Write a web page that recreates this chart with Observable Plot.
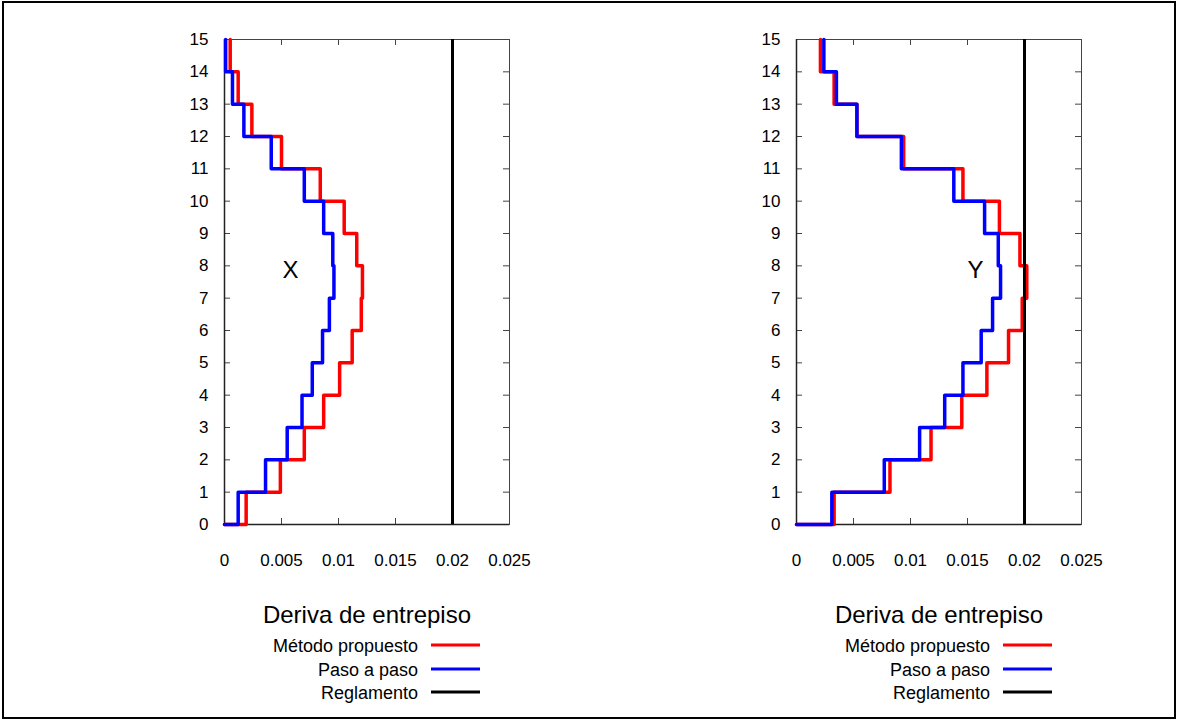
<!DOCTYPE html>
<html><head><meta charset="utf-8">
<script src="https://cdn.jsdelivr.net/npm/d3@7"></script>
<script src="https://cdn.jsdelivr.net/npm/@observablehq/plot@0.6"></script>
<style>
body{margin:0;background:#fff;font-family:"Liberation Sans",Arial,sans-serif;}
#page{position:relative;width:1178px;height:721px;overflow:hidden;background:#fff}
#border{position:absolute;left:2px;top:1px;width:1174px;height:718px;border:2px solid #000;box-sizing:border-box}
.chart{position:absolute;top:0}
.ltitle{position:absolute;font-size:24px;transform:translate(-50%,-50%);white-space:nowrap;color:#000}
.lentry{position:absolute;font-size:18px;transform:translate(-100%,-50%);white-space:nowrap;color:#000}
.lline{position:absolute;height:3px;width:49px;transform:translateY(-50%)}
</style></head>
<body><div id="page"><div id="border"></div></div>
<script>
// ---- data ----
const stories = [0,1,2,3,4,5,6,7,8,9,10,11,12,13,14,15];
const xTicks = [0, 0.005, 0.01, 0.015, 0.02, 0.025];
const seriesNames = ["Método propuesto", "Paso a paso", "Reglamento"];
const seriesColors = ["#ff0000", "#0000ff", "#000000"];
const legendTitle = "Deriva de entrepiso";
const limitValue = 0.02;

// Dirección X (story 1..15)
const xPropuesto = [0.0019, 0.0049, 0.0070, 0.0087, 0.0101, 0.0112, 0.0120, 0.0121, 0.0116, 0.0105, 0.0084, 0.0050, 0.0024, 0.0012, 0.0005];
const xPasoAPaso = [0.0012, 0.0036, 0.0055, 0.0068, 0.0077, 0.0086, 0.0092, 0.0096, 0.0095, 0.0087, 0.0070, 0.0041, 0.0017, 0.0007, 0.0001];
// Dirección Y (story 1..15)
const yPropuesto = [0.0033, 0.0082, 0.0118, 0.0145, 0.0167, 0.0186, 0.0198, 0.0202, 0.0196, 0.0178, 0.0146, 0.0094, 0.0053, 0.0033, 0.0021];
const yPasoAPaso = [0.0031, 0.0077, 0.0108, 0.0130, 0.0146, 0.0162, 0.0172, 0.0179, 0.0177, 0.0165, 0.0138, 0.0092, 0.0053, 0.0035, 0.0024];

const labelX = {text: "X", x: 0.0058, y: 7.87};
const labelY = {text: "Y", x: 0.0157, y: 7.87};

// ---- drawing ----
const page = document.getElementById("page");

function stepPoints(vals) {
  return stories.map((s, i) => ({x: i === 0 ? 0 : vals[i - 1], y: s}));
}

function drawChart(red, blue, lab, left, mL) {
  const W = 430, H = 580, mT = 39, mB = 56, mR = W - mL - 285;
  const pW = W - mL - mR, pH = H - mT - mB;
  const chart = Plot.plot({
    width: W, height: H,
    marginLeft: mL, marginRight: mR, marginTop: mT, marginBottom: mB,
    style: {fontFamily: '"Liberation Sans", Arial, sans-serif', fontSize: "17px", color: "#000", background: "transparent", overflow: "visible"},
    x: {domain: [0, 0.025]},
    y: {domain: [0, 15]},
    marks: [
      Plot.frame({stroke: "#444", strokeWidth: 1}),
      Plot.tickX(xTicks, {x: d => d, insetTop: pH - 6, stroke: "#444"}),
      Plot.tickX(xTicks, {x: d => d, insetBottom: pH - 6, stroke: "#444"}),
      Plot.tickY(stories, {y: d => d, insetRight: pW - 6, stroke: "#444"}),
      Plot.tickY(stories, {y: d => d, insetLeft: pW - 6, stroke: "#444"}),
      Plot.ruleX([0], {stroke: "#222", strokeWidth: 1.5}),
      Plot.ruleY([0], {stroke: "#222", strokeWidth: 1.5}),
      Plot.axisX(xTicks, {anchor: "bottom", tickSize: 0, tickPadding: 29, tickFormat: d => String(d), label: null, fontSize: 17}),
      Plot.axisY(stories, {anchor: "left", tickSize: 0, tickPadding: 16, label: null, fontSize: 17}),
      Plot.line(stepPoints(red), {x: "x", y: "y", curve: "step-after", stroke: seriesColors[0], strokeWidth: 3.5}),
      Plot.line(stepPoints(blue), {x: "x", y: "y", curve: "step-after", stroke: seriesColors[1], strokeWidth: 3.5}),
      Plot.ruleX([limitValue], {stroke: seriesColors[2], strokeWidth: 3}),
      Plot.text([lab], {x: "x", y: "y", text: "text", fontSize: 24, fill: "#000"})
    ]
  });
  chart.classList.add("chart");
  chart.style.left = left + "px";
  page.appendChild(chart);

  // legend
  const ax = left + mL; // x of zero
  const t = document.createElement("div");
  t.className = "ltitle"; t.textContent = legendTitle;
  t.style.left = (ax + 143) + "px"; t.style.top = "615px";
  page.appendChild(t);
  seriesNames.forEach((n, i) => {
    const y = 645 + i * 23.7;
    const e = document.createElement("div");
    e.className = "lentry"; e.textContent = n;
    e.style.left = (ax + 194) + "px"; e.style.top = (y + 1) + "px";
    page.appendChild(e);
    const l = document.createElement("div");
    l.className = "lline"; l.style.background = seriesColors[i];
    l.style.left = (ax + 207) + "px"; l.style.top = y + "px";
    page.appendChild(l);
  });
}

drawChart(xPropuesto, xPasoAPaso, labelX, 130, 94);
drawChart(yPropuesto, yPasoAPaso, labelY, 700, 96);
</script>
</body></html>
